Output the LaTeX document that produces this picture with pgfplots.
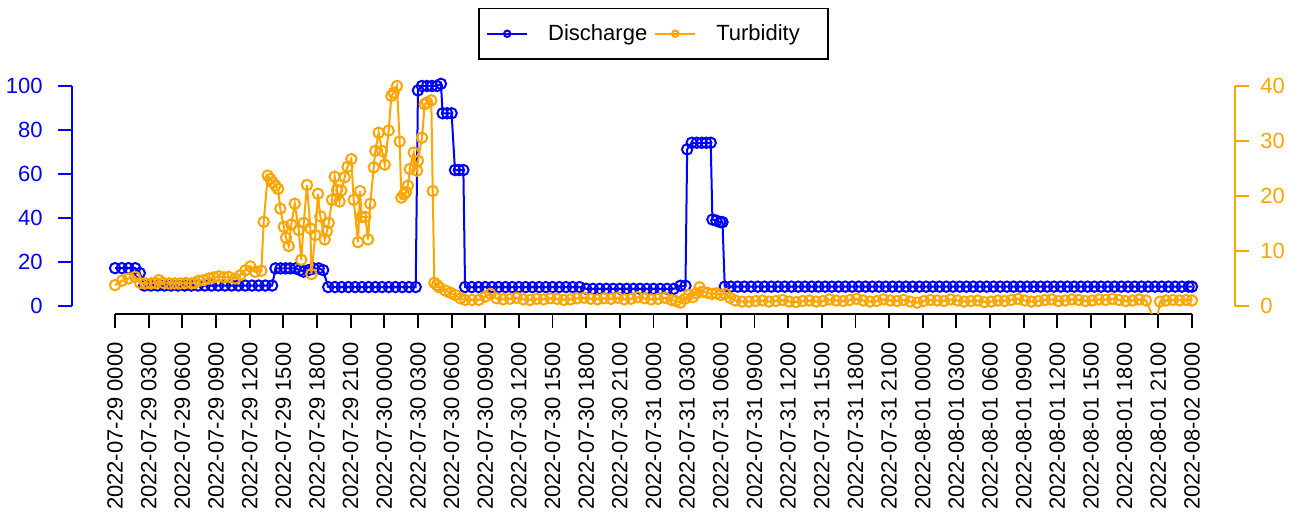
\documentclass[border=0pt]{standalone}
\usepackage{fontspec}
\setmainfont{Liberation Sans}
\usepackage{pgfplots}
\pgfplotsset{compat=1.18}
\usepackage{pgfplotstable}

\definecolor{qblue}{HTML}{0000FF}
\definecolor{torange}{HTML}{FFA500}

% Discharge, hours since 2022-07-29 00:00
\pgfplotstableread{
h q
0 17.2
0.6 17.2
1.2 17.2
1.8 17.2
2.2 15.0
2.6 9.3
3.2 9.3
3.8 9.3
4.4 9.3
5.0 9.3
5.6 9.3
6.2 9.3
6.8 9.3
7.4 9.3
8.0 9.3
8.6 9.3
9.2 9.3
9.8 9.3
10.4 9.3
11.0 9.3
11.6 9.3
12.2 9.3
12.8 9.3
13.4 9.3
14.0 9.3
14.3 17.1
14.75 17.1
15.2 17.1
15.6 17.1
16.1 17.1
16.5 16.3
16.8 15.6
17.25 16.3
17.7 17.1
18.15 17.1
18.55 16.3
19.0 8.6
19.6 8.6
20.2 8.6
20.8 8.6
21.4 8.6
22.0 8.6
22.6 8.6
23.2 8.6
23.8 8.6
24.4 8.6
25.0 8.6
25.6 8.6
26.2 8.6
26.8 8.6
27.0 98.0
27.35 100
27.8 100
28.25 100
28.7 100
29.05 101
29.2 87.6
29.6 87.6
30.0 87.6
30.3 61.8
30.65 61.8
31.05 61.8
31.2 8.6
31.8 8.6
32.4 8.6
33.0 8.6
33.6 8.6
34.2 8.6
34.8 8.6
35.4 8.6
36.0 8.6
36.6 8.6
37.2 8.6
37.8 8.6
38.4 8.6
39.0 8.6
39.6 8.6
40.2 8.6
40.8 8.6
41.4 8.6
42.0 7.8
42.6 7.8
43.2 7.8
43.8 7.8
44.4 7.8
45.0 7.8
45.6 7.8
46.2 7.8
46.8 7.8
47.4 7.8
48.0 7.8
48.6 7.8
49.2 7.8
49.8 7.8
50.4 9.2
50.85 9.2
51.0 71.2
51.4 74.2
51.85 74.2
52.3 74.2
52.7 74.2
53.1 74.2
53.25 39.3
53.6 38.8
53.95 38.1
54.15 38.1
54.35 8.8
54.9 8.8
55.5 8.8
56.1 8.8
56.7 8.8
57.3 8.8
57.9 8.8
58.5 8.8
59.1 8.8
59.7 8.8
60.3 8.8
60.9 8.8
61.5 8.8
62.1 8.8
62.7 8.8
63.3 8.8
63.9 8.8
64.5 8.8
65.1 8.8
65.7 8.8
66.3 8.8
66.9 8.8
67.5 8.8
68.1 8.8
68.7 8.8
69.3 8.8
69.9 8.8
70.5 8.8
71.1 8.8
71.7 8.8
72.3 8.8
72.9 8.8
73.5 8.8
74.1 8.8
74.7 8.8
75.3 8.8
75.9 8.8
76.5 8.8
77.1 8.8
77.7 8.8
78.3 8.8
78.9 8.8
79.5 8.8
80.1 8.8
80.7 8.8
81.3 8.8
81.9 8.8
82.5 8.8
83.1 8.8
83.7 8.8
84.3 8.8
84.9 8.8
85.5 8.8
86.1 8.8
86.7 8.8
87.3 8.8
87.9 8.8
88.5 8.8
89.1 8.8
89.7 8.8
90.3 8.8
90.9 8.8
91.5 8.8
92.1 8.8
92.7 8.8
93.3 8.8
93.9 8.8
94.5 8.8
95.1 8.8
95.7 8.8
96.0 8.8
}\dischargetable

% Turbidity, hours since 2022-07-29 00:00
\pgfplotstableread{
h t
0.00 3.8
0.62 4.6
1.22 5.0
1.78 5.3
2.23 4.2
2.7 4.1
3.2 4.1
3.6 4.2
3.9 4.7
4.3 4.2
4.8 4.1
5.3 4.1
5.8 4.1
6.3 4.2
6.8 4.1
7.1 4.2
7.46 4.6
7.9 4.7
8.35 5.0
8.8 5.2
9.24 5.4
9.7 5.2
10.13 5.3
10.72 5.0
11.17 5.6
11.61 6.5
12.06 7.2
12.5 6.2
13.04 6.4
13.25 15.3
13.61 23.7
13.84 23.1
14.06 22.5
14.29 21.9
14.53 21.3
14.73 17.7
15.04 14.4
15.24 12.4
15.48 10.9
15.71 14.8
16.02 18.6
16.37 13.8
16.60 8.4
16.82 15.1
17.11 22.0
17.41 14.1
17.50 5.8
17.85 12.9
18.09 20.4
18.30 16.3
18.69 12.1
18.89 13.6
19.05 15.1
19.34 19.3
19.58 23.5
19.79 21.1
20.01 19.0
20.17 21.0
20.47 23.4
20.72 25.3
21.06 26.7
21.27 19.3
21.66 11.6
21.84 20.9
21.97 16.2
22.31 16.2
22.55 12.1
22.75 18.6
23.06 25.2
23.20 28.2
23.50 31.5
23.80 28.2
24.04 25.7
24.39 31.9
24.63 38.2
24.84 38.8
25.13 40.0
25.37 29.9
25.52 19.7
25.75 20.3
25.94 20.7
26.11 21.9
26.27 24.9
26.62 27.9
26.92 24.6
27.00 26.4
27.36 30.6
27.60 36.7
27.81 37.0
28.19 37.4
28.32 20.9
28.46 4.2
28.70 3.8
28.90 3.4
29.44 2.8
29.88 2.4
30.33 2.0
30.78 1.4
31.22 1.1
31.82 1.1
32.42 1.1
33.00 1.7
33.45 2.2
34.0 1.4
34.6 1.2
35.2 1.3
35.8 1.5
36.4 1.2
37.0 1.1
37.6 1.3
38.2 1.2
38.8 1.4
39.4 1.3
40.0 1.1
40.6 1.2
41.2 1.4
41.8 1.5
42.4 1.3
43.0 1.2
43.6 1.4
44.2 1.3
44.8 1.5
45.4 1.2
46.0 1.3
46.6 1.6
47.2 1.4
47.8 1.2
48.4 1.3
49.0 1.5
49.6 1.1
50.0 0.9
50.4 0.6
50.8 1.3
51.1 2.0
51.5 1.6
51.8 2.3
52.1 3.4
52.4 2.6
52.8 2.4
53.2 2.2
53.6 2.3
54.0 2.0
54.4 2.2
54.8 1.5
55.3 1.0
55.9 0.8
56.5 0.8
57.1 0.9
57.7 1.0
58.3 0.8
58.9 0.9
59.5 1.1
60.1 0.8
60.7 0.7
61.3 0.9
61.9 1.0
62.5 0.8
63.1 0.9
63.7 1.2
64.3 1.0
64.9 0.9
65.5 1.1
66.1 1.3
66.7 1.0
67.3 0.8
67.9 0.9
68.5 1.2
69.1 1.0
69.7 0.9
70.3 1.1
70.9 0.8
71.5 0.6
72.1 0.9
72.7 1.1
73.3 1.0
73.9 0.9
74.5 1.2
75.1 1.0
75.7 0.8
76.3 0.9
76.9 1.0
77.5 0.7
78.1 0.8
78.7 1.0
79.3 0.9
79.9 1.1
80.5 1.3
81.1 1.0
81.7 0.8
82.3 0.9
82.9 1.1
83.5 1.2
84.1 0.9
84.7 1.0
85.3 1.2
85.9 1.1
86.5 0.9
87.1 1.0
87.7 1.2
88.3 1.1
88.9 1.3
89.5 1.1
90.1 0.9
90.7 1.0
91.3 1.2
91.9 1.0
92.45 -1.6
92.7 -1.7
92.95 -1.6
93.15 0.8
93.7 1.0
94.3 1.1
94.9 1.0
95.5 1.1
96.0 1.0
}\turbiditytable

\pgfplotsset{
  hydro/.style={
    width=581.5pt, height=119.5pt, scale only axis,
    at={(0,0)}, anchor=south west,
    xmin=-3.84, xmax=99.84,
    clip mode=individual,
    tick align=outside, major tick length=7pt,
    axis line style={draw=none},
    /pgf/number format/assume math mode=true,
    tick label style={font=\fontsize{11}{13}\selectfont},
  },
  series/.style={line width=1pt, mark=o, mark size=2.6pt,
    mark options={line width=1pt, solid}},
}

\begin{document}
\begin{tikzpicture}
\useasboundingbox (-36pt,-107.5pt) rectangle (608.5pt,157pt);

% Discharge on the left axis
\begin{axis}[hydro,
  ymin=-3.64, ymax=105,
  axis x line*=bottom, axis y line*=left,
  xtick={0,3,...,96},
  xticklabels={2022-07-29 0000,2022-07-29 0300,2022-07-29 0600,2022-07-29 0900,
    2022-07-29 1200,2022-07-29 1500,2022-07-29 1800,2022-07-29 2100,
    2022-07-30 0000,2022-07-30 0300,2022-07-30 0600,2022-07-30 0900,
    2022-07-30 1200,2022-07-30 1500,2022-07-30 1800,2022-07-30 2100,
    2022-07-31 0000,2022-07-31 0300,2022-07-31 0600,2022-07-31 0900,
    2022-07-31 1200,2022-07-31 1500,2022-07-31 1800,2022-07-31 2100,
    2022-08-01 0000,2022-08-01 0300,2022-08-01 0600,2022-08-01 0900,
    2022-08-01 1200,2022-08-01 1500,2022-08-01 1800,2022-08-01 2100,
    2022-08-02 0000},
  xticklabel style={rotate=90, anchor=east, inner sep=0pt},
  xticklabel shift=7pt,
  ytick={0,20,...,100},
  yticklabel style={qblue, inner sep=0pt},
  yticklabel shift=7.5pt,
  ytick style={qblue, line width=0.9pt},
  xtick style={black, line width=0.9pt},
]
\addplot[qblue, series] table[x=h, y=q] {\dischargetable};
\draw[black, line width=0.9pt] (axis cs:0,-3.64) -- (axis cs:96,-3.64);
\draw[qblue, line width=0.9pt] (axis cs:-3.84,0) -- (axis cs:-3.84,100);
\end{axis}

% Turbidity on the right axis, with the shared legend
\begin{axis}[hydro,
  ymin=-1.456, ymax=42,
  axis y line*=right, hide x axis,
  ytick={0,10,...,40},
  yticklabel style={torange, inner sep=0pt, xshift=5.5pt},
  ytick style={torange, line width=0.9pt},
  legend columns=2,
  legend image code/.code={
    \draw[mark repeat=2, mark phase=2, #1, mark size=1.6pt]
      plot coordinates {(0pt,0pt) (10pt,0pt) (20pt,0pt)};},
  legend style={
    at={(0.5,1)}, anchor=south, yshift=7.5pt,
    draw=black, line width=0.75pt,
    inner xsep=3.5pt, inner ysep=8pt,
    font=\fontsize{11}{13}\selectfont,
    nodes={inner sep=0pt},
    /tikz/every odd column/.append style={column sep=10pt},
    /tikz/every even column/.append style={column sep=3.5pt},
  },
]
\addlegendimage{qblue, series}
\addlegendentry{Discharge}
\addplot[torange, series] table[x=h, y=t] {\turbiditytable};
\addlegendentry{Turbidity\hspace*{10.5pt}}
\draw[torange, line width=0.9pt] (axis cs:99.84,0) -- (axis cs:99.84,40);
\end{axis}
\end{tikzpicture}
\end{document}
